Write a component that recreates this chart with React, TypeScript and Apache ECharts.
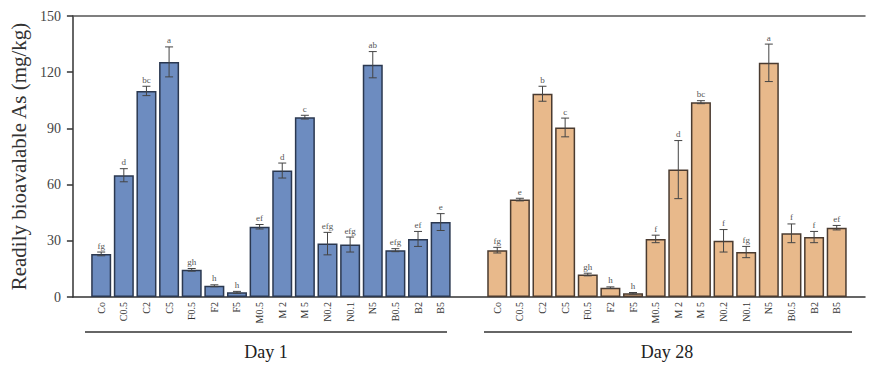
import React, { useEffect, useRef } from "react";
import * as echarts from "echarts";

const day1Cats = ["Co", "C0.5", "C2", "C5", "F0.5", "F2", "F5", "M0.5", "M 2", "M 5", "N0.2", "N0.1", "N5", "B0.5", "B2", "B5"];
const day28Cats = ["Co", "C0.5", "C2", "C5", "F0.5", "F2", "F5", "M0.5", "M 2", "M 5", "N0.2", "N0.1", "N5", "B0.5", "B2", "B5"];

const day1Values = [23, 65, 110, 125.5, 14.5, 6, 2.5, 37.5, 67.5, 96, 28.5, 28, 124, 25, 31, 40];
const day1Err = [1, 3.5, 2.5, 8, 0.7, 0.5, 0.5, 1.2, 4, 1, 6, 4, 7, 0.8, 4, 4.5];
const day1Letters = ["fg", "d", "bc", "a", "gh", "h", "h", "ef", "d", "c", "efg", "efg", "ab", "efg", "ef", "e"];

const day28Values = [25, 52, 108.5, 90.5, 12, 5, 2, 31, 68, 104, 30, 24, 125, 34, 32, 37];
const day28Err = [1.5, 0.7, 4, 5, 0.7, 0.4, 0.4, 2, 15.5, 0.8, 6, 3, 10, 5, 3, 1.2];
const day28Letters = ["fg", "e", "b", "c", "gh", "h", "h", "f", "d", "bc", "f", "fg", "a", "f", "f", "ef"];

const yTicks = [0, 30, 60, 90, 120, 150];
const groupLabels = ["Day 1", "Day 28"];

// slot layout: half-spaced category slots
const SLOTS = 70;
const DAY1_START = 2;
const DAY28_START = 37;

const SERIF = "'Liberation Serif', 'DejaVu Serif', serif";

export default function App() {
  const ref = useRef<HTMLDivElement>(null);

  useEffect(() => {
    if (!ref.current) return;
    const chart = echarts.init(ref.current, null, { renderer: "svg" });

    const cats: string[] = new Array(SLOTS).fill("");
    const d1: any[] = new Array(SLOTS).fill("-");
    const d28: any[] = new Array(SLOTS).fill("-");
    const errData: any[] = [];
    day1Cats.forEach((c, i) => {
      const k = DAY1_START + 2 * i;
      cats[k] = c;
      d1[k] = day1Values[i];
      errData.push([k, day1Values[i], day1Err[i], day1Letters[i], 0]);
    });
    day28Cats.forEach((c, i) => {
      const k = DAY28_START + 2 * i;
      cats[k] = c;
      d28[k] = day28Values[i];
      errData.push([k, day28Values[i], day28Err[i], day28Letters[i], 1]);
    });

    const option: any = {
      animation: false,
      grid: { left: 72, right: 5, top: 16, bottom: 68 },
      xAxis: [
        {
          type: "category",
          data: cats,
          position: "bottom",
          axisLine: { show: true, lineStyle: { color: "#333", width: 1.5 } },
          axisTick: { show: false },
          axisLabel: {
            interval: 0,
            rotate: 90,
            fontSize: 10,
            fontFamily: SERIF,
            color: "#333",
            margin: 5,
          },
          splitLine: { show: false },
        },
        {
          type: "category",
          data: cats,
          position: "top",
          axisLine: { show: true, lineStyle: { color: "#555", width: 1.5 } },
          axisTick: { show: false },
          axisLabel: { show: false },
          splitLine: { show: false },
        },
      ],
      yAxis: {
        type: "value",
        min: yTicks[0],
        max: yTicks[yTicks.length - 1],
        interval: 30,
        name: "Readily bioavalable As (mg/kg)",
        nameLocation: "middle",
        nameGap: 42,
        nameTextStyle: { fontSize: 21, fontFamily: SERIF, color: "#333" },
        axisLine: { show: true, lineStyle: { color: "#333", width: 1.5 } },
        axisTick: { show: true, length: 6, lineStyle: { color: "#333", width: 1.5 } },
        axisLabel: { fontSize: 14, fontFamily: SERIF, color: "#444", margin: 12 },
        splitLine: { show: false },
      },
      series: [
        {
          name: groupLabels[0],
          type: "bar",
          data: d1,
          barWidth: 20,
          barGap: "-100%",
          itemStyle: { color: "#6d8cc0", borderColor: "#2b3850", borderWidth: 1.5 },
        },
        {
          name: groupLabels[1],
          type: "bar",
          data: d28,
          barWidth: 20,
          barGap: "-100%",
          itemStyle: { color: "#e8b98b", borderColor: "#4a3b30", borderWidth: 1.5 },
        },
        {
          type: "custom",
          z: 10,
          itemStyle: { color: "#555" },
          data: errData,
          renderItem: (params: any, api: any) => {
            const x = api.value(0);
            const v = api.value(1);
            const e = api.value(2);
            const letter = errData[params.dataIndex][3];
            const top = api.coord([x, v + e]);
            const bot = api.coord([x, v - e]);
            const cx = top[0];
            const cap = 4;
            const ls = { stroke: "#444", lineWidth: 1 };
            return {
              type: "group",
              children: [
                { type: "line", shape: { x1: cx, y1: top[1], x2: cx, y2: bot[1] }, style: ls },
                { type: "line", shape: { x1: cx - cap, y1: top[1], x2: cx + cap, y2: top[1] }, style: ls },
                { type: "line", shape: { x1: cx - cap, y1: bot[1], x2: cx + cap, y2: bot[1] }, style: ls },
                {
                  type: "text",
                  style: {
                    text: letter,
                    x: cx,
                    y: top[1] - 2,
                    align: "center",
                    verticalAlign: "bottom",
                    fontSize: 9,
                    fontFamily: SERIF,
                    fill: "#555",
                  },
                },
              ],
            };
          },
        },
      ],
      graphic: [
        { type: "line", shape: { x1: 85, y1: 332, x2: 447, y2: 332 }, style: { stroke: "#333", lineWidth: 1.5 } },
        { type: "line", shape: { x1: 484, y1: 332, x2: 852, y2: 332 }, style: { stroke: "#333", lineWidth: 1.5 } },
        {
          type: "text",
          x: 266,
          y: 352,
          style: { text: groupLabels[0], fontSize: 18, fontFamily: SERIF, fill: "#222", align: "center", verticalAlign: "middle" },
        },
        {
          type: "text",
          x: 667,
          y: 352,
          style: { text: groupLabels[1], fontSize: 18, fontFamily: SERIF, fill: "#222", align: "center", verticalAlign: "middle" },
        },
      ],
    };

    chart.setOption(option);
    return () => chart.dispose();
  }, []);

  return (
    <div
      ref={ref}
      style={{ position: "fixed", left: 0, top: 0, width: 870, height: 365, background: "#fff" }}
    />
  );
}
